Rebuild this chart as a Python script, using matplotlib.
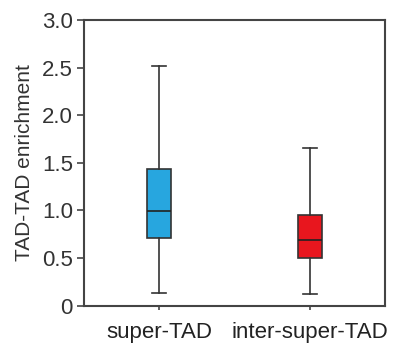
import matplotlib
matplotlib.use("Agg")
import matplotlib.pyplot as plt

plt.rcParams["font.family"] = ["Liberation Sans", "DejaVu Sans"]

groups = ["super-TAD", "inter-super-TAD"]
whisker_low = [0.13, 0.12]
q1 = [0.71, 0.50]
median = [0.99, 0.69]
q3 = [1.43, 0.955]
whisker_high = [2.52, 1.65]
colors = ["#27a6df", "#e8161e"]

stats = []
for i, name in enumerate(groups):
    stats.append({
        "label": name,
        "whislo": whisker_low[i],
        "q1": q1[i],
        "med": median[i],
        "q3": q3[i],
        "whishi": whisker_high[i],
        "fliers": [],
    })

fig = plt.figure(figsize=(3.93, 3.47), dpi=100)
ax = fig.add_axes([84 / 393, 1 - 305.5 / 347, 301 / 393, 285.5 / 347])

bp = ax.bxp(stats, positions=[1, 2], widths=0.16, patch_artist=True,
            showfliers=False,
            boxprops=dict(linewidth=1.2, edgecolor="#333333"),
            medianprops=dict(color="#222222", linewidth=1.2),
            whiskerprops=dict(color="#333333", linewidth=1.2),
            capprops=dict(color="#333333", linewidth=1.2))
for patch, c in zip(bp["boxes"], colors):
    patch.set_facecolor(c)
for cap in bp["caps"]:
    x0, x1 = cap.get_xdata()
    mid = (x0 + x1) / 2
    cap.set_xdata([mid - 0.045, mid + 0.045])

ax.set_xlim(0.5, 2.5)
ax.set_ylim(0, 3.0)
ax.set_yticks([0, 0.5, 1.0, 1.5, 2.0, 2.5, 3.0])
ax.set_yticklabels(["0", "0.5", "1.0", "1.5", "2.0", "2.5", "3.0"])
ax.set_xticks([1, 2])
ax.set_xticklabels(groups)
ax.set_ylabel("TAD-TAD enrichment", fontsize=15, color="#333333", labelpad=6)

for s in ax.spines.values():
    s.set_linewidth(1.5)
    s.set_color("#444444")
ax.tick_params(axis="y", labelsize=16, length=5, width=1.2, colors="#444444",
               labelcolor="#333333", pad=3)
ax.tick_params(axis="x", labelsize=16, length=3, width=1.2, colors="#444444",
               labelcolor="#222222", pad=9)

fig.savefig("out.png", dpi=100)
